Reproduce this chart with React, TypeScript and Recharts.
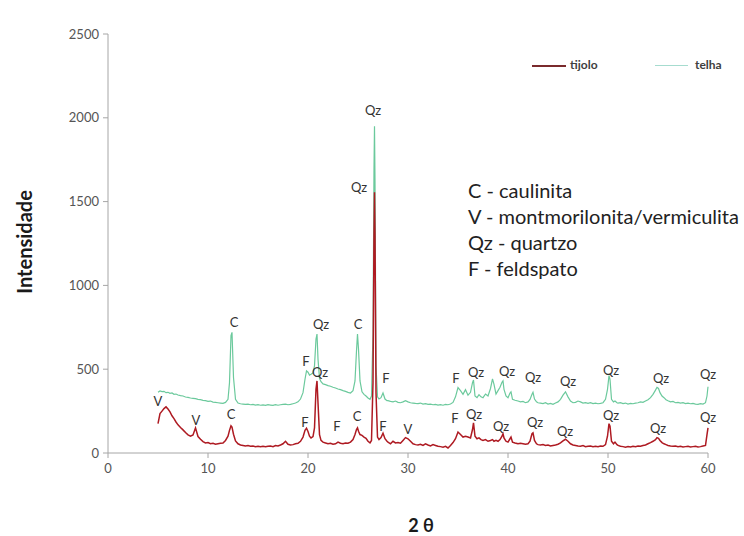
import React from 'react';
import { LineChart, Line, XAxis, YAxis, ReferenceDot, Label, Legend } from 'recharts';

// 2θ positions (degrees)
const twoTheta = [
  5.0, 5.2, 5.4, 5.6, 5.8, 6.0, 6.2, 6.4, 6.6, 6.8, 7.0,
  7.25, 7.5, 7.75, 8.0, 8.25, 8.5, 8.75, 9.0, 9.25, 9.5, 9.75, 10.0, 10.25, 10.5, 10.75, 11.0, 11.25, 11.5, 11.75,
  12.0, 12.15, 12.3, 12.4, 12.55, 12.75,
  13.0, 13.25, 13.5, 13.75, 14.0, 14.25, 14.5, 14.75, 15.0, 15.25, 15.5, 15.75, 16.0, 16.25, 16.5, 16.75, 17.0, 17.25, 17.5, 17.75, 18.0, 18.25, 18.5, 18.75, 19.0, 19.25,
  19.5, 19.7, 19.85, 20.0, 20.15, 20.3, 20.5, 20.65, 20.8, 20.9, 21.0, 21.15, 21.3, 21.5,
  21.75, 22.0, 22.25, 22.5, 22.75, 23.0, 23.25, 23.5, 23.75, 24.0, 24.25, 24.5,
  24.7, 24.85, 24.95, 25.05, 25.2, 25.4, 25.6, 25.8, 26.0, 26.2,
  26.35, 26.5, 26.6, 26.65, 26.7, 26.8, 26.95, 27.1,
  27.3, 27.5, 27.7, 27.9,
  28.0, 28.25, 28.5, 28.75, 29.0, 29.25, 29.5, 29.75, 30.0, 30.25, 30.5, 30.75, 31.0, 31.25, 31.5, 31.75, 32.0, 32.25, 32.5, 32.75, 33.0, 33.25, 33.5, 33.75, 34.0, 34.25, 34.5, 34.75,
  35.0, 35.25, 35.5, 35.75, 36.0, 36.25, 36.45, 36.55, 36.7, 36.9, 37.1, 37.3,
  37.5, 37.75, 38.0, 38.25, 38.45, 38.6, 38.8, 39.0,
  39.2, 39.4, 39.5, 39.6, 39.8, 40.0, 40.2, 40.3, 40.45, 40.7, 41.0,
  41.25, 41.5, 41.75, 42.0, 42.2, 42.4, 42.5, 42.65, 42.85, 43.0,
  43.25, 43.5, 43.75, 44.0, 44.25, 44.5, 44.75, 45.0, 45.25, 45.5, 45.75, 46.0, 46.25, 46.5,
  46.75, 47.0, 47.25, 47.5, 47.75, 48.0, 48.25, 48.5, 48.75, 49.0, 49.25, 49.5, 49.75,
  49.95, 50.1, 50.2, 50.35, 50.55, 50.7, 50.9,
  51.0, 51.25, 51.5, 51.75, 52.0, 52.25, 52.5, 52.75, 53.0, 53.25, 53.5, 53.75, 54.0, 54.25, 54.5,
  54.75, 54.9, 55.05, 55.2, 55.4, 55.6, 55.8,
  56.0, 56.25, 56.5, 56.75, 57.0, 57.25, 57.5, 57.75, 58.0, 58.25, 58.5, 58.75, 59.0, 59.25, 59.5, 59.75,
  59.9, 60.0,
];

// tijolo intensity
const tijolo = [
  175, 235, 250, 265, 275, 262, 245, 222, 205, 185, 168,
  152, 138, 122, 108, 100, 108, 150, 98, 82, 68, 60, 62, 55, 58, 52, 55, 58, 60, 75,
  100, 135, 162, 155, 112, 72,
  55, 48, 45, 42, 44, 40, 42, 38, 40, 37, 40, 38, 40, 42, 38, 45, 42, 48, 55, 70, 52, 48, 50, 55, 58, 70,
  95, 135, 148, 128, 100, 90, 98, 150, 380, 430, 300, 110, 75, 65,
  60, 55, 58, 52, 55, 65, 58, 55, 60, 58, 65, 80,
  110, 140, 150, 130, 110, 105, 95, 88, 70, 60,
  75, 420, 1300, 1555, 1300, 360, 95, 80,
  92, 118, 85, 70,
  65, 55, 70, 60, 62, 58, 75, 92, 85, 70, 55, 50, 48, 52, 45, 55, 48, 42, 50, 45, 40, 38, 35, 40, 30, 45, 62, 85,
  125, 110, 95, 100, 95, 90, 140, 180, 100, 85, 90, 80,
  75, 80, 70, 75, 80, 70, 75, 70,
  80, 100, 115, 90, 70, 65, 85, 95, 65, 60, 55,
  58, 55, 52, 55, 70, 115, 120, 75, 55, 50,
  48, 50, 45, 48, 42, 45, 48, 52, 60, 72, 82, 70, 55, 48,
  45, 42, 40, 44, 38, 40, 42, 38, 40, 38, 42, 40, 50,
  100, 175, 160, 70, 55, 65, 50,
  45, 40, 38, 35, 38, 36, 40, 38, 42, 40, 45, 48, 55, 62, 70,
  80, 92, 88, 75, 62, 55, 50,
  45, 42, 40, 42, 38, 40, 36, 38, 40, 36, 38, 40, 36, 38, 42, 45,
  110, 150,
];

// telha intensity
const telha = [
  362, 370, 366, 368, 360, 362, 356, 358, 350, 352, 346,
  342, 340, 334, 332, 328, 326, 324, 320, 318, 314, 312, 308, 310, 304, 302, 300, 298, 296, 302,
  320, 420, 700, 720, 450, 320,
  298, 294, 292, 290, 291, 288, 290, 286, 288, 285, 287, 284, 288, 286, 284, 288, 285, 288, 290, 292, 288, 290, 294, 298, 305, 322,
  360, 440, 490, 482, 465, 470, 478, 520, 680, 710, 560, 445, 425, 412,
  408, 402, 398, 392, 388, 382, 378, 372, 368, 362, 358, 372,
  430, 610, 710, 620, 430, 365, 350, 340, 328, 320,
  340, 720, 1700, 1950, 1620, 520, 335, 322,
  330, 358, 322, 312,
  312, 308, 305, 310, 302, 300, 305, 312, 305, 300, 298, 296, 295, 298, 292, 294, 290, 292, 288, 290, 286, 288, 285, 290, 288, 292, 302, 335,
  390, 372, 350, 378, 345, 362, 420, 435, 340, 330, 348, 335,
  330, 352, 340, 385, 442, 410, 352, 372,
  392, 422, 430, 380, 340, 330, 358, 365, 320, 315, 310,
  305, 308, 300, 305, 320, 350, 362, 322, 305, 300,
  298, 295, 300, 292, 296, 290, 298, 305, 320, 345, 365, 335, 310, 300,
  302, 310, 305, 298, 300, 296, 300, 295, 298, 294, 296, 300, 320,
  380, 462, 440, 320, 305, 310, 300,
  298, 300, 295, 298, 292, 296, 294, 298, 300, 305, 302, 310, 318, 330, 350,
  375, 392, 385, 360, 340, 330, 318,
  312, 305, 308, 300, 302, 298, 300, 295, 298, 294, 296, 292, 290, 294, 292, 300,
  340, 395,
];

const xTicks = [0, 10, 20, 30, 40, 50, 60];
const yTicks = [0, 500, 1000, 1500, 2000, 2500];

// peak annotations (2θ, intensity, phase)
const telhaMarks = [
  { x: 12.6, y: 780, t: 'C' },
  { x: 19.8, y: 546, t: 'F' },
  { x: 21.3, y: 770, t: 'Qz' },
  { x: 25.0, y: 770, t: 'C' },
  { x: 26.5, y: 2046, t: 'Qz' },
  { x: 27.8, y: 443, t: 'F' },
  { x: 34.8, y: 448, t: 'F' },
  { x: 36.8, y: 483, t: 'Qz' },
  { x: 39.9, y: 488, t: 'Qz' },
  { x: 42.5, y: 454, t: 'Qz' },
  { x: 46.0, y: 425, t: 'Qz' },
  { x: 50.3, y: 494, t: 'Qz' },
  { x: 55.3, y: 443, t: 'Qz' },
  { x: 60.0, y: 471, t: 'Qz' },
];

const tijoloMarks = [
  { x: 5.0, y: 305, t: 'V' },
  { x: 8.8, y: 195, t: 'V' },
  { x: 12.3, y: 230, t: 'C' },
  { x: 19.7, y: 184, t: 'F' },
  { x: 21.2, y: 483, t: 'Qz' },
  { x: 22.9, y: 161, t: 'F' },
  { x: 24.9, y: 218, t: 'C' },
  { x: 25.1, y: 1586, t: 'Qz' },
  { x: 27.5, y: 161, t: 'F' },
  { x: 30.0, y: 138, t: 'V' },
  { x: 34.7, y: 207, t: 'F' },
  { x: 36.6, y: 230, t: 'Qz' },
  { x: 39.3, y: 161, t: 'Qz' },
  { x: 42.7, y: 184, t: 'Qz' },
  { x: 45.7, y: 126, t: 'Qz' },
  { x: 50.3, y: 224, t: 'Qz' },
  { x: 55.0, y: 144, t: 'Qz' },
  { x: 60.0, y: 213, t: 'Qz' },
];

const phaseKey = [
  'C - caulinita',
  'V - montmorilonita/vermiculita',
  'Qz - quartzo',
  'F - feldspato',
];

const data = twoTheta.map((x, i) => ({ x, tijolo: tijolo[i], telha: telha[i] }));

const FONT = 'Lato, "Open Sans", sans-serif';
const RED = '#AE1A22';
const GREEN = '#6BC99C';

const LegendContent = () => (
  <div style={{ position: 'relative', width: 210, height: 16, fontFamily: FONT, fontSize: 12, fontWeight: 700, color: '#404040' }}>
    <div style={{ position: 'absolute', left: 0, top: 7, width: 34, height: 2, background: '#7A2A2C' }} />
    <div style={{ position: 'absolute', left: 38, top: -1 }}>tijolo</div>
    <div style={{ position: 'absolute', left: 123, top: 7, width: 33, height: 1, background: '#A6DCCF' }} />
    <div style={{ position: 'absolute', left: 163, top: -1 }}>telha</div>
  </div>
);

export default function App() {
  return (
    <div style={{ position: 'absolute', left: 0, top: 0, width: 744, height: 536, background: '#fff' }}>
      <LineChart
        width={744}
        height={536}
        data={data}
        margin={{ top: 18, right: 36, left: 0, bottom: 0 }}
      >
        <XAxis
          type="number"
          dataKey="x"
          domain={[0, 60]}
          ticks={xTicks}
          height={83}
          tickSize={5}
          tickMargin={6}
          stroke="#A6A6A6"
          tick={{ fill: '#555', fontSize: 13, fontFamily: FONT }}
        >
          <Label
            content={() => (
              <text x={421} y={532} textAnchor="middle" fontFamily={FONT} fontSize={18} fontWeight={700} fill="#1a1a1a">
                2 θ
              </text>
            )}
          />
        </XAxis>
        <YAxis
          type="number"
          domain={[0, 2500]}
          ticks={yTicks}
          width={108}
          tickSize={5}
          tickMargin={4}
          stroke="#A6A6A6"
          tick={{ fill: '#555', fontSize: 13, fontFamily: FONT }}
        >
          <Label
            content={() => (
              <text
                x={24}
                y={242}
                transform="rotate(-90 24 242)"
                textAnchor="middle"
                dominantBaseline="central"
                fontFamily={FONT}
                fontSize={20}
                fontWeight={700}
                fill="#1a1a1a"
              >
                Intensidade
              </text>
            )}
          />
        </YAxis>
        <Legend
          content={<LegendContent />}
          layout="horizontal"
          verticalAlign="top"
          align="left"
          wrapperStyle={{ position: 'absolute', left: 532, top: 58, width: 210 }}
        />
        <Line
          type="linear"
          dataKey="telha"
          stroke={GREEN}
          strokeWidth={1.2}
          dot={false}
          isAnimationActive={false}
        />
        <Line
          type="linear"
          dataKey="tijolo"
          stroke={RED}
          strokeWidth={1.5}
          dot={false}
          isAnimationActive={false}
        />
        {telhaMarks.map((m, i) => (
          <ReferenceDot
            key={'g' + i}
            x={m.x}
            y={m.y}
            r={0}
            fill="none"
            stroke="none"
            ifOverflow="visible"
            label={{ value: m.t, position: 'center', fill: '#333', fontSize: 13, fontFamily: FONT }}
          />
        ))}
        {tijoloMarks.map((m, i) => (
          <ReferenceDot
            key={'r' + i}
            x={m.x}
            y={m.y}
            r={0}
            fill="none"
            stroke="none"
            ifOverflow="visible"
            label={{ value: m.t, position: 'center', fill: '#333', fontSize: 13, fontFamily: FONT }}
          />
        ))}
      </LineChart>
      <div
        style={{
          position: 'absolute',
          left: 468,
          top: 177,
          fontFamily: FONT,
          fontSize: 20,
          lineHeight: '26px',
          color: '#222',
          whiteSpace: 'nowrap',
        }}
      >
        {phaseKey.map((s) => (
          <div key={s}>{s}</div>
        ))}
      </div>
    </div>
  );
}
